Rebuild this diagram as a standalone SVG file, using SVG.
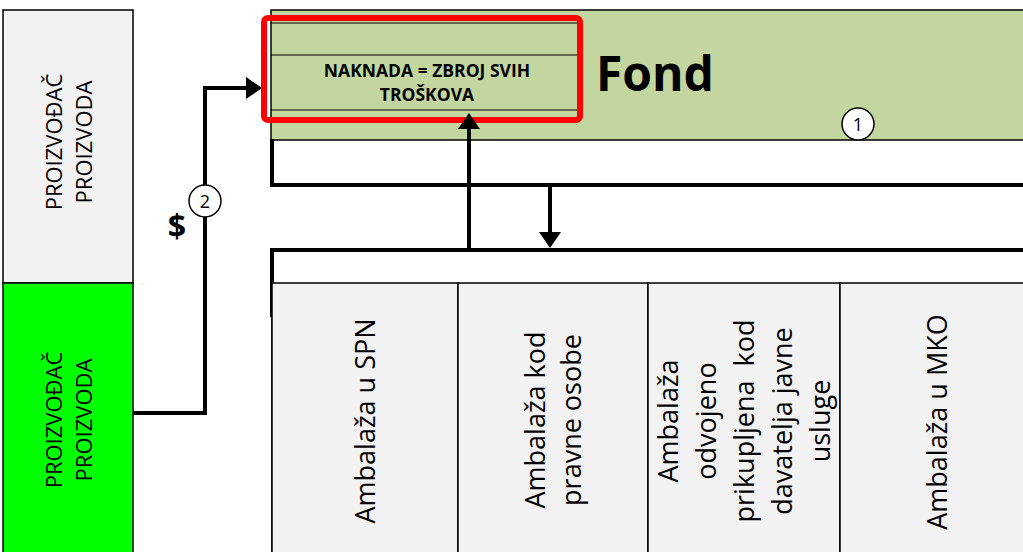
<svg xmlns="http://www.w3.org/2000/svg" width="1023" height="552" viewBox="0 0 1023 552">
<style>
.lbl{font-family:"Open Sans","Liberation Sans",sans-serif;fill:#000;}
.box{fill:#f2f2f2;stroke:#000;stroke-width:1.5;}
.thick{fill:none;stroke:#000;stroke-width:4;stroke-linejoin:miter;}
.thin{fill:none;stroke:#000;stroke-width:1.2;}
.conn{fill:none;stroke:#000;stroke-width:4;stroke-linejoin:miter;}
.num{fill:#fff;stroke:#000;stroke-width:1.5;}
</style>
<defs>
<marker id="arr" viewBox="0 0 16 22" refX="0" refY="11" markerWidth="16" markerHeight="22" markerUnits="userSpaceOnUse" orient="auto">
<path d="M0,0 L16,11 L0,22 Z" fill="#000"/>
</marker>
</defs>
<rect width="1023" height="552" fill="#fff"/>

<g id="producer-top">
<rect class="box" x="3" y="10" width="130" height="273"/>
<g class="lbl" font-size="22" text-anchor="middle">
<text transform="translate(62,142) rotate(-90)">PROIZVOĐAČ</text>
<text transform="translate(92,142) rotate(-90)">PROIZVODA</text>
</g>
</g>

<g id="producer-bottom">
<rect x="3" y="283" width="130" height="275" fill="#00ff00" stroke="#000" stroke-width="1.5"/>
<g class="lbl" font-size="22" text-anchor="middle">
<text transform="translate(62,420) rotate(-90)">PROIZVOĐAČ</text>
<text transform="translate(92,420) rotate(-90)">PROIZVODA</text>
</g>
</g>

<g id="fond">
<rect x="271" y="10" width="760" height="130" fill="#c4d6a0" stroke="#000" stroke-width="1.5"/>
<path class="thick" d="M272,139 V185 H1030"/>
<line class="thin" x1="271" y1="23" x2="578" y2="23"/>
<line class="thin" x1="271" y1="55" x2="578" y2="55"/>
<line class="thin" x1="271" y1="110" x2="578" y2="110"/>
<g class="lbl" font-size="17.5" font-weight="bold" text-anchor="middle">
<text x="427" y="77">NAKNADA = ZBROJ SVIH</text>
<text x="427" y="101">TROŠKOVA</text>
</g>
<rect x="264" y="18" width="316" height="102" rx="4" fill="none" stroke="#ff0000" stroke-width="6"/>
<text class="lbl" x="596" y="91" font-size="48" font-weight="bold">Fond</text>
<circle class="num" cx="858" cy="124" r="16"/>
<text class="lbl" x="858" y="130.5" font-size="18" text-anchor="middle">1</text>
</g>

<g id="bottom-group">
<rect x="271" y="250" width="760" height="33" fill="#fff"/>
<path class="thick" d="M272,317 V250 H1030"/>
<line x1="272" y1="283" x2="272" y2="560" stroke="#000" stroke-width="1.5"/>
</g>

<g id="col-spn">
<rect class="box" x="272" y="283" width="186" height="280"/>
<text class="lbl" font-size="27" text-anchor="middle" transform="translate(375,421) rotate(-90)">Ambalaža u SPN</text>
</g>

<g id="col-pravne">
<rect class="box" x="458" y="283" width="190" height="280"/>
<g class="lbl" font-size="27" text-anchor="middle">
<text transform="translate(545,420) rotate(-90)">Ambalaža kod</text>
<text transform="translate(581,420) rotate(-90)">pravne osobe</text>
</g>
</g>

<g id="col-davatelj">
<rect class="box" x="648" y="283" width="192" height="280" stroke-width="2.5"/>
<g class="lbl" font-size="27" text-anchor="middle">
<text transform="translate(678,421) rotate(-90)">Ambalaža</text>
<text transform="translate(716,421) rotate(-90)">odvojeno</text>
<text transform="translate(754,421) rotate(-90)" xml:space="preserve">prikupljena  kod</text>
<text transform="translate(792,421) rotate(-90)">davatelja javne</text>
<text transform="translate(830,421) rotate(-90)">usluge</text>
</g>
</g>

<g id="col-mko">
<rect class="box" x="840" y="283" width="200" height="280" stroke-width="2.5"/>
<text class="lbl" font-size="27" text-anchor="middle" transform="translate(947,422) rotate(-90)">Ambalaža u MKO</text>
</g>

<g id="connectors">
<path class="conn" d="M133,413 H205 V88 H246" marker-end="url(#arr)"/>
<path class="conn" d="M469,250 V129" marker-end="url(#arr)"/>
<path class="conn" d="M550,185 V232" marker-end="url(#arr)"/>
<circle class="num" cx="205" cy="201" r="16"/>
<text class="lbl" x="205" y="207.5" font-size="18" text-anchor="middle">2</text>
<text class="lbl" x="177" y="238" font-size="32" font-weight="bold" text-anchor="middle">$</text>
</g>
</svg>
